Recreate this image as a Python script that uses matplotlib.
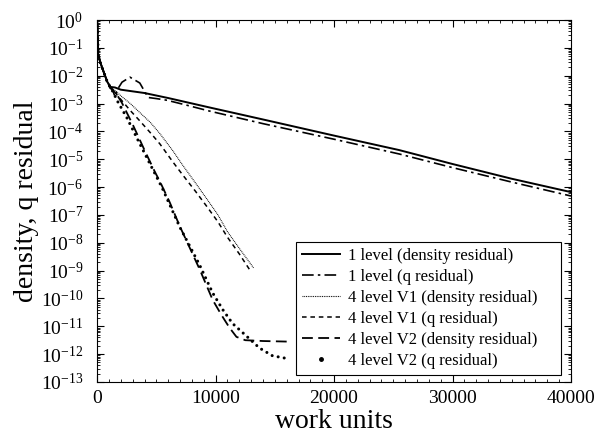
import numpy as np
import matplotlib
matplotlib.use("Agg")
import matplotlib.pyplot as plt
from matplotlib.lines import Line2D
from matplotlib.legend_handler import HandlerLine2D

plt.rcParams['font.family'] = ['Liberation Serif', 'DejaVu Serif']
plt.rcParams['mathtext.fontset'] = 'custom'
plt.rcParams['mathtext.rm'] = 'Liberation Serif'
plt.rcParams['mathtext.it'] = 'Liberation Serif:italic'

# residuals, stored as log10 exponents
x_1lvl_rho = [0, 40, 80, 250, 500, 840, 1100, 1500, 2000, 3000, 4000, 6000, 9500,
              14000, 20000, 25500, 30000, 35000, 40000]
e_1lvl_rho = [0, -0.5, -1.2, -1.5, -1.8, -2.2, -2.4, -2.42, -2.5, -2.56, -2.62, -2.8,
              -3.14, -3.57, -4.15, -4.67, -5.17, -5.7, -6.18]

x_1lvl_q = [0, 40, 80, 250, 500, 840, 1100, 1300, 1500, 1700, 2100, 2770, 3600, 4300,
            5000, 5900, 7500, 9500, 14000, 20000, 25500, 30000, 35000, 40000]
e_1lvl_q = [0, -0.5, -1.2, -1.5, -1.8, -2.25, -2.45, -2.5, -2.75, -2.5, -2.23, -2.05,
            -2.26, -2.78, -2.82, -2.88, -3.05, -3.27, -3.72, -4.28, -4.81, -5.3, -5.82,
            -6.32]

x_v1_rho = [0, 40, 80, 250, 500, 840, 1100, 1300, 2000, 2800, 3600, 4500, 5300, 6400,
            7200, 8300, 9300, 10200, 11000, 12000, 13200]
e_v1_rho = [0, -0.5, -1.2, -1.5, -1.8, -2.2, -2.4, -2.45, -2.72, -3.0, -3.32, -3.68,
            -4.08, -4.7, -5.2, -5.85, -6.45, -7.0, -7.6, -8.2, -8.9]

x_v1_q = [0, 40, 80, 250, 500, 840, 1100, 1300, 2000, 2800, 3600, 4500, 5300, 6400,
          7200, 8300, 9300, 10200, 11000, 12000, 13000]
e_v1_q = [0, -0.5, -1.2, -1.5, -1.8, -2.2, -2.4, -2.5, -2.85, -3.25, -3.62, -4.05,
          -4.45, -5.1, -5.55, -6.15, -6.72, -7.25, -7.8, -8.4, -9.05]

x_v2_rho = [0, 40, 80, 250, 500, 840, 1100, 1300, 1700, 2100, 3000, 4030, 4870, 5300,
            6130, 6970, 8650, 9750, 10500, 11170, 11760, 12500, 14000, 16000]
e_v2_rho = [0, -0.5, -1.2, -1.5, -1.8, -2.2, -2.4, -2.5, -2.7, -2.98, -3.75, -4.7,
            -5.45, -5.8, -6.55, -7.4, -8.95, -10.05, -10.6, -11.05, -11.38, -11.5,
            -11.53, -11.55]

x_v2_q = [0, 40, 80, 250, 500, 840, 1100, 1300, 1765, 2500, 3445, 4500, 5460, 6970,
          8650, 9750, 10600, 11430, 12600, 13700, 14800, 15800]
e_v2_q = [0, -0.5, -1.2, -1.5, -1.8, -2.2, -2.4, -2.55, -2.95, -3.5, -4.31, -5.2,
          -6.0, -7.43, -8.8, -9.8, -10.4, -10.9, -11.35, -11.78, -12.06, -12.14]

labels = ["1 level (density residual)", "1 level (q residual)",
          "4 level V1 (density residual)", "4 level V1 (q residual)",
          "4 level V2 (density residual)", "4 level V2 (q residual)"]


class OneDotHandler(HandlerLine2D):
    # a single dot at the right end of the handle, next to the text
    def get_xdata(self, legend, xdescent, ydescent, width, height, fontsize):
        xdata = np.array([-xdescent, width - xdescent])
        return xdata, np.array([width - xdescent - 0.25 * fontsize])


fig = plt.figure(figsize=(5.96, 4.37), dpi=100)
ax = fig.add_axes([0.163, 0.126, 0.795, 0.828])

h1, = ax.plot(x_1lvl_rho, 10.0 ** np.array(e_1lvl_rho), color='k', lw=1.4,
              ls='-')
h2, = ax.plot(x_1lvl_q, 10.0 ** np.array(e_1lvl_q), color='k', lw=1.2,
              ls=(0, (7, 2.5, 1.5, 2.5)))
h3, = ax.plot(x_v1_rho, 10.0 ** np.array(e_v1_rho), color='k', lw=0.8,
              ls=(0, (0.8, 0.8)))
h4, = ax.plot(x_v1_q, 10.0 ** np.array(e_v1_q), color='k', lw=1.1,
              ls=(0, (3, 2.5)))
h5, = ax.plot(x_v2_rho, 10.0 ** np.array(e_v2_rho), color='k', lw=1.3,
              ls=(0, (6, 3)))
ax.plot(x_v2_q, 10.0 ** np.array(e_v2_q), color='k', lw=2.2,
        ls=(0, (0.01, 2.0)), dash_capstyle='round')
h6 = Line2D([], [], color='k', ls='none', marker='o', ms=2.5)

ax.set_yscale('log')
ax.set_xlim(0, 40000)
ax.set_ylim(1e-13, 1)
ax.set_xticks([0, 10000, 20000, 30000, 40000])
ax.set_xticks(np.arange(0, 40001, 1000), minor=True)
ax.yaxis.set_major_locator(matplotlib.ticker.LogLocator(base=10, numticks=20))
ax.yaxis.set_minor_locator(matplotlib.ticker.LogLocator(base=10, subs=np.arange(2, 10),
                                                        numticks=20))
ax.yaxis.set_minor_formatter(matplotlib.ticker.NullFormatter())
ax.tick_params(which='both', direction='in', top=True, right=True, labelsize=14)
ax.tick_params(which='major', length=5, width=0.8)
ax.tick_params(which='minor', length=2.5, width=0.6)
ax.tick_params(axis='y', pad=10)
ax.tick_params(axis='x', pad=6)

ax.set_xlabel("work units", fontsize=20, labelpad=1)
ax.set_ylabel("density, q residual", fontsize=20, labelpad=1)

leg = ax.legend([h1, h2, h3, h4, h5, h6], labels, loc='lower left',
                bbox_to_anchor=(0.42, 0.019, 0.979 - 0.42, 0.37), mode='expand',
                fontsize=12, fancybox=False, edgecolor='k', framealpha=1,
                borderaxespad=0, handlelength=2.3, handletextpad=0.45,
                labelspacing=0.3, borderpad=0.35,
                handler_map={h6: OneDotHandler()})
leg.get_frame().set_linewidth(0.8)

fig.savefig("out.png", dpi=100)
